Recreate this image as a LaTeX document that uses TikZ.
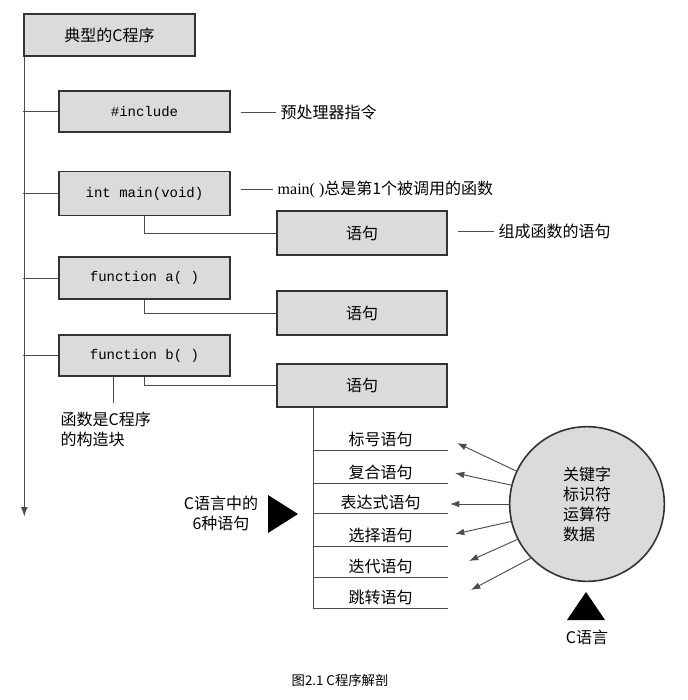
\documentclass[tikz,border=0pt]{standalone}
\usepackage{fontspec}
\setmainfont{Liberation Serif}
\setmonofont{Liberation Mono}
\newfontfamily\cjk{Noto Sans CJK SC}
\usetikzlibrary{positioning,arrows.meta}

\begin{document}
\begin{tikzpicture}[x=0.75pt,y=-0.75pt,
	font=\fontsize{12}{14}\selectfont,
	zh/.style={font=\cjk\fontsize{12}{15}\selectfont},
	box/.style={draw=black!80,line width=1.3pt,fill=black!14,minimum width=128pt,minimum height=31pt,inner sep=0pt},
	code/.style={font=\ttfamily\fontsize{10.5}{12}\selectfont},
	conn/.style={draw=black!70,line width=0.7pt},
	tip/.style={-{Latex[length=7pt,width=5pt]}}]

	\useasboundingbox (0,0) rectangle (687,700);

	% main column
	\node[box,zh] (title) at (109.5,35) {典型的C程序};
	\node[box,code] (inc) at (144.5,111.5) {\#include};
	\node[box,code,minimum height=33pt] (main) at (144.5,193.5) {int main(void)};
	\node[box,code] (fa) at (144.5,278) {function a( )};
	\node[box,code] (fb) at (144.5,355.5) {function b( )};

	\draw[conn,tip] ([xshift=0.75pt]title.south west) -- ++(0,460);
	\draw[conn] (inc.west) -- (inc.west -| title.south west);
	\draw[conn] (main.west) -- (main.west -| title.south west);
	\draw[conn] (fa.west) -- (fa.west -| title.south west);
	\draw[conn] (fb.west) -- (fb.west -| title.south west);

	% statements
	\node[box,zh,minimum height=33pt] (stmt1) at (362,233) {语句};
	\node[box,zh,minimum height=33pt] (stmt2) at (362,313) {语句};
	\node[box,zh,minimum height=32pt] (stmt3) at (362,385.5) {语句};

	\draw[conn] (main.south) -- (main.south |- stmt1.west) -- (stmt1.west);
	\draw[conn] (fa.south) -- (fa.south |- stmt2.west) -- (stmt2.west);
	\draw[conn] (fb.south) -- (fb.south |- stmt3.west) -- (stmt3.west);

	% notes
	\node[anchor=west,zh] (pp) at (276,112) {预处理器指令};
	\node[anchor=west] (mn) at (273,189) {main( )\cjk 总是第1个被调用的函数};
	\node[anchor=west,zh] (fn) at (494,231) {组成函数的语句};
	\draw[conn] ([xshift=7.5pt]inc.east |- pp.west) -- (pp.west);
	\draw[conn] ([xshift=7.5pt]main.east |- mn.west) -- (mn.west);
	\draw[conn] ([xshift=7.5pt]stmt1.east |- fn.west) -- (fn.west);

	\coordinate (bk) at (113,403);
	\draw[conn] (bk |- fb.south) -- (bk);
	\node[anchor=north west,align=left,zh] (blk) at (56,407) {函数是C程序\\的构造块};

	% six kinds of statements
	\foreach \y/\t/\n in {450/标号语句/s1,483/复合语句/s2,513/表达式语句/s3,546/选择语句/s4,577/迭代语句/s5,608/跳转语句/s6}{
		\coordinate (\n) at (313,\y);
		\draw[conn] (\n) -- ++(135,0) node[midway,above=-1.5pt,zh] {\t};
	}
	\draw[conn] (s1 |- stmt3.south) -- (s6);

	\node[align=center,zh] (six) at (221,513) {C语言中的\\6种语句};
	\fill (268,495) -- (298,514) -- (268,533) -- cycle;

	% C language circle
	\node[circle,draw=black!80,line width=1.2pt,fill=black!14,minimum size=116pt,align=left,zh] (lang) at (587,504) {关键字\\标识符\\运算符\\数据};

	\coordinate (a1) at (457,443);
	\coordinate (a2) at (455,473);
	\coordinate (a3) at (450,504);
	\coordinate (a4) at (455,534);
	\coordinate (a5) at (469,561);
	\coordinate (a6) at (471,590);
	\draw[conn,tip] (lang.155) -- (a1);
	\draw[conn,tip] (lang.166) -- (a2);
	\draw[conn,tip] (lang.180) -- (a3);
	\draw[conn,tip] (lang.193) -- (a4);
	\draw[conn,tip] (lang.207) -- (a5);
	\draw[conn,tip] (lang.224) -- (a6);

	\fill (567,620) -- (586,592) -- (605,620) -- cycle;
	\node[zh] (cl) at (587,637) {C语言};

	% caption
	\node[font=\cjk\fontsize{10}{12}\selectfont] (cap) at (340,680) {图2.1 C程序解剖};

\end{tikzpicture}
\end{document}
